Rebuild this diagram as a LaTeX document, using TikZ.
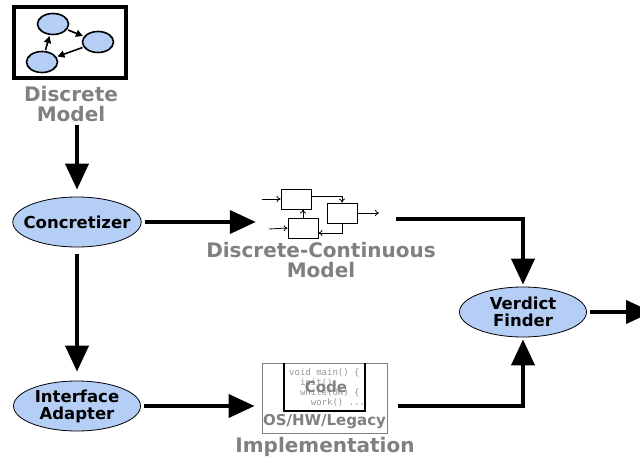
\documentclass[tikz,border=0pt]{standalone}
\usepackage{fontspec}
\setmainfont{DejaVu Sans}
\setmonofont{DejaVu Sans Mono}
\usepackage{xcolor}
\usepackage{tikz}
\usetikzlibrary{shapes.geometric, arrows.meta, positioning, calc}
\definecolor{procblue}{RGB}{181,206,246}
\definecolor{labelgray}{RGB}{128,128,128}
\definecolor{codegray}{RGB}{150,150,150}
\newcommand{\procfont}{\fontsize{16.5}{17}\selectfont\bfseries}
\newcommand{\lblfont}{\fontsize{20}{20}\selectfont\bfseries}
\tikzset{
  proc/.style={ellipse, draw=black, line width=0.8pt, fill=procblue,
               minimum width=127pt, minimum height=50pt, inner xsep=-8pt,
               inner ysep=0pt, font=\procfont, align=center},
  state/.style={ellipse, draw=black, line width=1.6pt, fill=procblue,
                minimum width=31pt, minimum height=21pt, inner sep=0pt},
  minibox/.style={rectangle, draw=black, line width=0.9pt, fill=white,
                  minimum width=30pt, minimum height=20pt, inner sep=0pt},
  glabel/.style={text=labelgray, font=\lblfont, align=center, inner sep=0pt},
  arrow/.style={-{Triangle[length=26pt,width=23pt]}, line width=4pt},
  iconarrow/.style={-{Triangle[length=7pt,width=7pt]}, line width=1.6pt,
                    shorten <=1pt, shorten >=1pt},
  thinarrow/.style={-{To[length=4pt,width=6pt]}, line width=0.8pt},
}
\begin{document}
\begin{tikzpicture}[x=1pt, y=-1pt]
  \useasboundingbox (0,0) rectangle (640,460);

  % discrete model icon
  \node[draw=black, line width=4pt, minimum width=112pt, minimum height=71pt,
        inner sep=0pt] (dmodel) at (70,43) {};
  \node[state] (s1) at (53,24) {};
  \node[state] (s2) at (98,42) {};
  \node[state] (s3) at (42,62) {};
  \foreach \a/\b in {s1/s2, s2/s3, s3/s1}
    \draw[iconarrow] (\a) -- (\b);
  \node[glabel] (dlabel) at (71,104) {Discrete\\Model};

  % processing steps
  \node[proc] (concr)   at (77,222) {Concretizer};
  \node[proc] (adapter) at (77,406) {Interface\\Adapter};
  \node[proc] (verdict) at (523,312) {Verdict\\Finder};

  % discrete-continuous model
  \node[minimum width=140pt, minimum height=56pt] (dcmodel) at (326,219) {};
  \node[minibox] (b1) at (296,199) {};
  \node[minibox] (b2) at (342,213) {};
  \node[minibox] (b3) at (303,228) {};
  \coordinate (in1)  at (262,199);
  \coordinate (in3)  at (269,229);
  \coordinate (out2) at (379,213);
  \draw[thinarrow] (in1) -- (b1.west);
  \draw[thinarrow] (in3) -- (b3.west);
  \draw[thinarrow] (b2.east) -- (out2);
  \draw[thinarrow] ([yshift=3pt]b1.east) -| (b2.north);
  \draw[thinarrow] (b2.south) |- ([yshift=-5pt]b3.east);
  \draw[thinarrow] (b3.north) -- (b3.north |- b1.south);
  \node[glabel] (dclabel) at (321,260) {Discrete-Continuous\\Model};

  % implementation
  \node[draw=labelgray, line width=0.8pt, minimum width=125pt,
        minimum height=70pt, inner sep=0pt] (impl) at (324.5,398) {};
  \node[anchor=north west, text=codegray, align=left, inner sep=0pt,
        font=\fontsize{9}{10.3}\selectfont\ttfamily] (code) at (289,368)
    {void main() \{\\\phantom{vo}init();\\\phantom{vo}while(OK) \{\\\phantom{void}work() ...};
  \draw[line width=1.4pt] (284,363) -- (284,411) -- (365,411) -- (365,363);
  \node[text=labelgray, font=\fontsize{15}{15}\selectfont\bfseries, inner sep=0pt]
    (codelbl) at (326,387) {Code};
  \node[text=labelgray, font=\fontsize{15}{15}\selectfont\bfseries, inner sep=0pt]
    (oslbl) at (324.5,422) {OS/HW/Legacy};
  \node[glabel] (impllabel) at (325,447) {Implementation};

  % connectors
  \coordinate (out) at (652,312);
  \draw[arrow, shorten >=7pt] (dlabel.south -| concr) ++(0,3) -- (concr.north);
  \draw[arrow, shorten <=3pt] (concr) -- (concr -| dcmodel.west);
  \draw[arrow, shorten <=7pt, shorten >=9pt] (concr) -- (adapter);
  \draw[arrow, shorten <=3pt, shorten >=7pt] (adapter) -- (adapter -| impl.west);
  \draw[arrow, shorten >=2pt] (dcmodel.east) -| (verdict.north);
  \draw[arrow, shorten <=11pt, shorten >=2pt] (impl.east |- adapter) -| (verdict.south);
  \draw[arrow, shorten <=3pt] (verdict) -- (out);
\end{tikzpicture}
\end{document}
